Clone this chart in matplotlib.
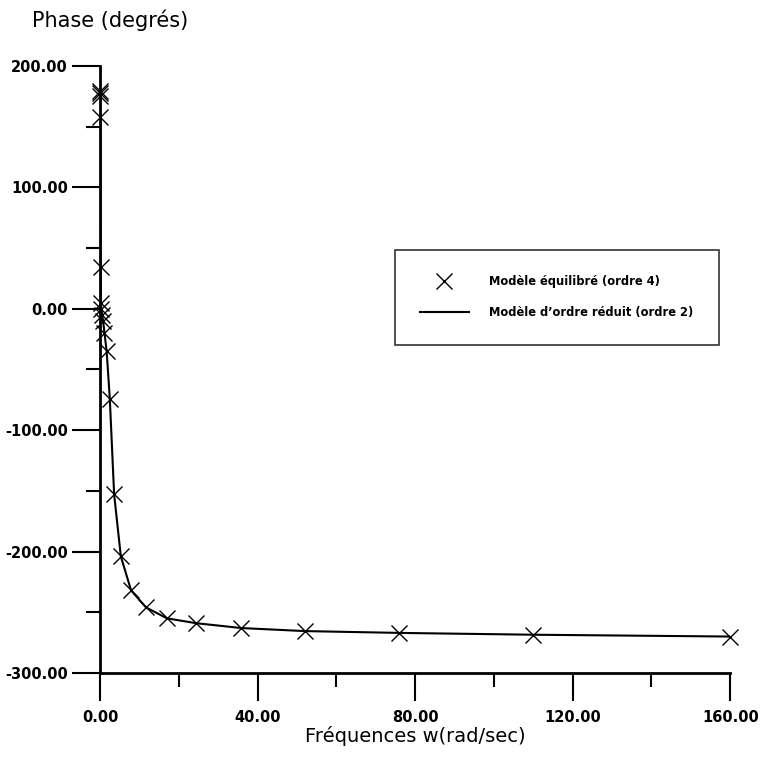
#!/usr/bin/env python3

import matplotlib
matplotlib.use('Agg')
import matplotlib.pyplot as plt
from matplotlib.ticker import MultipleLocator, FormatStrFormatter

# Balanced model (order 4) - crosses
w_balanced = [0.03, 0.05, 0.08, 0.12, 0.17, 0.25, 0.37, 0.55, 0.8, 1.15,
              1.7, 2.5, 3.6, 5.3, 7.9, 11.7, 17.0, 24.4, 35.9, 52.0,
              76.0, 110.0, 160.0]
phase_balanced = [179, 178, 175, 158, 34, 5, 0, -5, -10, -20,
                  -35, -74, -153, -204, -232, -246, -255, -259, -263, -265.5,
                  -267, -268.5, -270]

# Reduced-order model (order 2) - line
w_reduced = [0.0, 0.03, 0.05, 0.08, 0.12, 0.17, 0.25, 0.37, 0.55, 0.8,
             1.15, 1.7, 2.5, 3.6, 5.3, 7.9, 11.7, 17.0, 24.4, 35.9,
             52.0, 76.0, 110.0, 160.0]
phase_reduced = [180, 179, 178, 175, 158, 34, 5, 0, -5, -10,
                 -20, -35, -74, -153, -204, -232, -246, -255, -259, -263,
                 -265.5, -267, -268.5, -270]

plt.rcParams['font.family'] = ['DejaVu Sans']

fig = plt.figure(figsize=(7.63, 7.57), dpi=100)
ax = fig.add_axes([0.131, 0.111, 0.826, 0.802])

ax.plot(w_reduced, phase_reduced, color='black', linewidth=1.5,
        label="Modèle d’ordre réduit (ordre 2)", zorder=2)
ax.plot(w_balanced, phase_balanced, linestyle='none', marker='x',
        markersize=11, markeredgewidth=1.0, color='black', clip_on=False,
        label='Modèle équilibré (ordre 4)', zorder=3)

ax.set_xlim(0, 160)
ax.set_ylim(-300, 200)

ax.spines['top'].set_visible(False)
ax.spines['right'].set_visible(False)
ax.spines['left'].set_linewidth(2)
ax.spines['bottom'].set_linewidth(2)

ax.xaxis.set_major_locator(MultipleLocator(40))
ax.xaxis.set_minor_locator(MultipleLocator(20))
ax.yaxis.set_major_locator(MultipleLocator(100))
ax.yaxis.set_minor_locator(MultipleLocator(50))
ax.xaxis.set_major_formatter(FormatStrFormatter('%.2f'))
ax.yaxis.set_major_formatter(FormatStrFormatter('%.2f'))

ax.tick_params(which='major', direction='out', length=20, width=1.5,
               labelsize=10.5)
ax.tick_params(which='minor', direction='out', length=10, width=1.5)
ax.tick_params(axis='x', which='major', pad=7)
ax.tick_params(axis='y', which='major', pad=3)
for lab in ax.get_xticklabels() + ax.get_yticklabels():
    lab.set_fontweight('bold')

ax.set_xlabel('Fréquences w(rad/sec)', fontsize=14, va='center')
ax.xaxis.set_label_coords(0.5, -0.104)
fig.text(0.042, 0.973, 'Phase (degrés)', fontsize=15, ha='left', va='center')

handles, labels = ax.get_legend_handles_labels()
leg = ax.legend(handles[::-1], labels[::-1], loc='upper left',
                bbox_to_anchor=(0.468, 0.697), frameon=True, fancybox=False,
                edgecolor='black', fontsize=8.3, handlelength=4.2,
                borderpad=2.2, labelspacing=1.56, handletextpad=1.8,
                borderaxespad=0)
leg.get_frame().set_linewidth(1.2)
for t in leg.get_texts():
    t.set_fontweight('bold')

fig.savefig('out.png', dpi=100)
